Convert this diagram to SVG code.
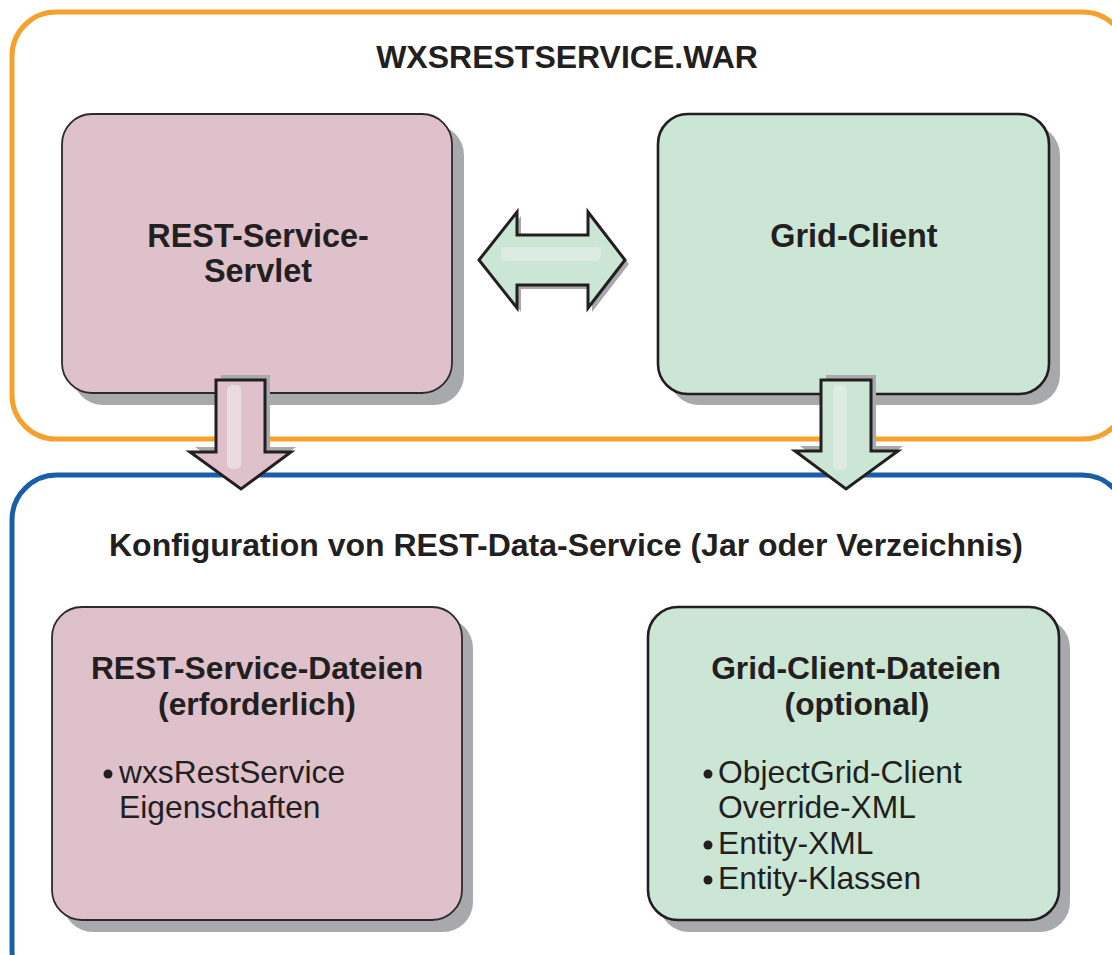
<svg xmlns="http://www.w3.org/2000/svg" width="1112" height="955" viewBox="0 0 1112 955">
<style>
.frameO{fill:none;stroke:#f4a12e;stroke-width:5}
.frameB{fill:none;stroke:#1a5ea8;stroke-width:5}
.shadow{fill:#a7a9ac}
.pink{fill:#dfc1cb;stroke:#2e2a2b;stroke-width:1.8}
.green{fill:#cce6d6;stroke:#231f20;stroke-width:2.6}
.h{font-family:"Liberation Sans",Arial,sans-serif;font-weight:bold;fill:#231f20;text-anchor:middle}
.b{font-family:"Liberation Sans",Arial,sans-serif;fill:#231f20;font-size:31.8px}
.arrP{fill:#dfc1cb;stroke:#231f20;stroke-width:3;stroke-linejoin:miter}
.arrG{fill:#cce6d6;stroke:#231f20;stroke-width:3;stroke-linejoin:miter}
.hlP{fill:#eadbe0}
.hlG{fill:#dcece2}
.dot{fill:#231f20}
</style>
<g id="war-container">
<rect class="frameO" x="12" y="12" width="1115" height="427" rx="44"/>
<text class="h" x="567" y="68" font-size="32">WXSRESTSERVICE.WAR</text>
</g>
<g id="config-container">
<rect class="frameB" x="12" y="475" width="1115" height="520" rx="45"/>
<text class="h" x="566" y="556" font-size="32">Konfiguration von REST-Data-Service (Jar oder Verzeichnis)</text>
</g>
<g id="rest-servlet">
<rect class="shadow" x="73" y="125" width="391" height="280" rx="30"/>
<rect class="pink" x="62" y="114" width="390" height="279" rx="30"/>
<text class="h" x="258" y="247" font-size="32.4">REST-Service-</text>
<text class="h" x="258" y="282" font-size="32.4">Servlet</text>
</g>
<g id="grid-client">
<rect class="shadow" x="669" y="125" width="391" height="280" rx="30"/>
<rect class="green" x="658" y="114" width="391" height="280" rx="30"/>
<text class="h" x="854" y="247" font-size="32.4">Grid-Client</text>
</g>
<g id="rest-files">
<rect class="shadow" x="63" y="618" width="410" height="314" rx="30"/>
<rect class="pink" x="52" y="607" width="410" height="313" rx="30"/>
<text class="h" x="257" y="679" font-size="31.8">REST-Service-Dateien</text>
<text class="h" x="257" y="715" font-size="31.8">(erforderlich)</text>
<circle class="dot" cx="108" cy="774" r="4.5"/>
<text class="b" x="119" y="783">wxsRestService</text>
<text class="b" x="119" y="818">Eigenschaften</text>
</g>
<g id="grid-files">
<rect class="shadow" x="659" y="618" width="411" height="314" rx="30"/>
<rect class="green" x="648" y="607" width="411" height="313" rx="30"/>
<text class="h" x="856" y="679" font-size="31.8">Grid-Client-Dateien</text>
<text class="h" x="857" y="715" font-size="31.8">(optional)</text>
<circle class="dot" cx="708" cy="774" r="4.5"/>
<text class="b" x="718" y="783">ObjectGrid-Client</text>
<text class="b" x="718" y="818">Override-XML</text>
<circle class="dot" cx="708" cy="845" r="4.5"/>
<text class="b" x="718" y="854">Entity-XML</text>
<circle class="dot" cx="708" cy="880" r="4.5"/>
<text class="b" x="718" y="889">Entity-Klassen</text>
</g>
<g id="connectors">
<g id="arrow-servlet-to-files">
<polygon class="shadow" points="221,375 270,375 270,447 296,447 246,484 195,447 221,447"/>
<polygon class="arrP" points="216,380 265,380 265,452 291,452 241,489 190,452 216,452"/>
<rect class="hlP" x="227" y="385" width="14" height="84" rx="5"/>
</g>
<g id="arrow-client-to-files">
<polygon class="shadow" points="826,375 876,375 876,446 903,446 851,484 800,446 826,446"/>
<polygon class="arrG" points="821,380 871,380 871,451 898,451 846,489 795,451 821,451"/>
<rect class="hlG" x="833" y="385" width="14" height="85" rx="5"/>
</g>
<g id="arrow-servlet-client">
<polygon class="shadow" points="483,264 521,216 521,239 592,239 592,216 629,264 592,312 592,289 521,289 521,312"/>
<polygon class="arrG" points="479,260 517,212 517,235 588,235 588,212 625,260 588,308 588,285 517,285 517,308"/>
<rect class="hlG" x="501" y="247" width="100" height="14" rx="5"/>
</g>
</g>
</svg>
